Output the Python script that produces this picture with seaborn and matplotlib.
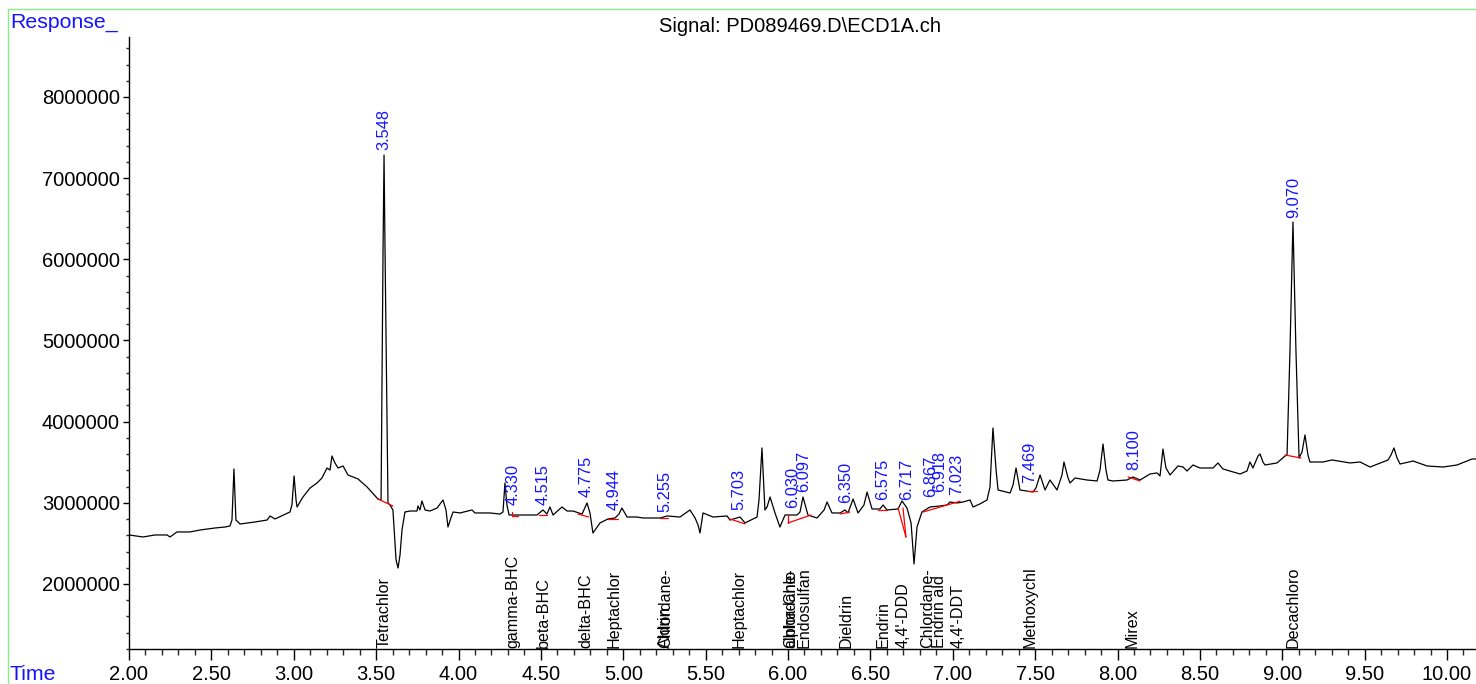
import numpy as np
import pandas as pd
import seaborn as sns
import matplotlib
matplotlib.use("Agg")
import matplotlib.pyplot as plt
from matplotlib import ticker
from matplotlib.lines import Line2D

# ---------------- data ----------------
time_min = [
    2.000, 2.085, 2.158, 2.231, 2.249, 2.291, 2.370, 2.431, 2.522, 2.583,
    2.613, 2.625, 2.637, 2.649, 2.674, 2.765, 2.838, 2.856, 2.886, 2.977,
    2.989, 3.002, 3.014, 3.020, 3.056, 3.099, 3.141, 3.171, 3.202, 3.220,
    3.232, 3.250, 3.269, 3.299, 3.329, 3.390, 3.445, 3.511, 3.530, 3.542,
    3.548, 3.554, 3.572, 3.584, 3.602, 3.621, 3.633, 3.645, 3.657, 3.675,
    3.706, 3.748, 3.754, 3.766, 3.778, 3.797, 3.827, 3.870, 3.906, 3.924,
    3.936, 3.954, 3.967, 4.009, 4.082, 4.100, 4.191, 4.252, 4.270, 4.282,
    4.294, 4.307, 4.355, 4.476, 4.513, 4.537, 4.555, 4.574, 4.628, 4.659,
    4.695, 4.750, 4.780, 4.798, 4.816, 4.859, 4.907, 4.950, 4.974, 4.992,
    5.023, 5.083, 5.120, 5.223, 5.266, 5.344, 5.405, 5.436, 5.454, 5.466,
    5.484, 5.545, 5.630, 5.648, 5.709, 5.739, 5.812, 5.824, 5.842, 5.860,
    5.873, 5.891, 5.921, 5.951, 5.982, 6.055, 6.073, 6.091, 6.121, 6.176,
    6.219, 6.237, 6.267, 6.316, 6.346, 6.364, 6.395, 6.425, 6.461, 6.480,
    6.510, 6.558, 6.577, 6.601, 6.668, 6.692, 6.722, 6.747, 6.765, 6.783,
    6.813, 6.862, 6.923, 6.965, 6.983, 7.026, 7.062, 7.105, 7.123, 7.165,
    7.208, 7.226, 7.244, 7.263, 7.275, 7.348, 7.366, 7.384, 7.408, 7.487,
    7.505, 7.530, 7.560, 7.590, 7.633, 7.663, 7.675, 7.700, 7.712, 7.742,
    7.815, 7.876, 7.894, 7.912, 7.930, 7.942, 7.973, 8.058, 8.094, 8.137,
    8.197, 8.240, 8.258, 8.276, 8.294, 8.319, 8.367, 8.398, 8.422, 8.458,
    8.501, 8.580, 8.610, 8.640, 8.744, 8.786, 8.804, 8.822, 8.853, 8.865,
    8.883, 8.895, 8.968, 9.017, 9.029, 9.047, 9.065, 9.083, 9.102, 9.120,
    9.138, 9.156, 9.168, 9.247, 9.302, 9.411, 9.472, 9.533, 9.611, 9.642,
    9.660, 9.678, 9.697, 9.715, 9.794, 9.879, 9.976, 10.061, 10.152, 10.176,
]
response_millions = [
    2.604, 2.579, 2.604, 2.604, 2.579, 2.641, 2.641, 2.665, 2.690, 2.702,
    2.715, 2.788, 3.417, 2.788, 2.739, 2.764, 2.788, 2.838, 2.801, 2.887,
    2.973, 3.331, 3.035, 2.949, 3.072, 3.183, 3.244, 3.306, 3.429, 3.404,
    3.577, 3.491, 3.429, 3.454, 3.343, 3.294, 3.195, 3.047, 3.035, 6.115,
    7.285, 6.115, 2.998, 2.973, 2.912, 2.296, 2.197, 2.357, 2.665, 2.887,
    2.899, 2.899, 2.961, 2.912, 3.023, 2.912, 2.899, 2.936, 3.035, 2.912,
    2.702, 2.813, 2.887, 2.875, 2.912, 2.875, 2.875, 2.862, 2.887, 3.244,
    2.973, 2.850, 2.850, 2.850, 2.912, 2.862, 2.949, 2.850, 2.949, 2.899,
    2.899, 2.862, 2.998, 2.875, 2.628, 2.752, 2.801, 2.813, 2.862, 2.936,
    2.825, 2.825, 2.813, 2.813, 2.838, 2.825, 2.912, 2.813, 2.727, 2.628,
    2.875, 2.825, 2.838, 2.788, 2.825, 2.752, 2.825, 3.035, 3.676, 2.912,
    2.949, 3.072, 2.875, 2.702, 2.850, 2.850, 2.887, 3.072, 2.850, 2.813,
    2.912, 3.010, 2.875, 2.875, 2.912, 2.875, 3.047, 2.875, 2.973, 3.133,
    2.924, 2.924, 2.973, 2.912, 2.924, 3.023, 2.936, 2.752, 2.246, 2.702,
    2.887, 2.949, 2.961, 2.973, 3.010, 2.998, 3.010, 3.035, 2.949, 2.986,
    3.035, 3.195, 3.922, 3.404, 3.158, 3.121, 3.220, 3.429, 3.158, 3.133,
    3.183, 3.343, 3.158, 3.281, 3.158, 3.343, 3.503, 3.306, 3.244, 3.306,
    3.281, 3.269, 3.404, 3.725, 3.404, 3.281, 3.269, 3.281, 3.318, 3.281,
    3.355, 3.368, 3.331, 3.663, 3.429, 3.343, 3.454, 3.441, 3.392, 3.466,
    3.429, 3.429, 3.491, 3.417, 3.355, 3.392, 3.503, 3.429, 3.577, 3.602,
    3.503, 3.466, 3.491, 3.577, 3.589, 4.883, 6.460, 4.883, 3.552, 3.626,
    3.836, 3.589, 3.503, 3.503, 3.528, 3.491, 3.503, 3.441, 3.503, 3.528,
    3.589, 3.676, 3.552, 3.478, 3.515, 3.454, 3.441, 3.466, 3.540, 3.540,
]

# integration baselines (red): start time, start response, end time, end response (millions)
base_t0 = [3.511, 4.325, 4.325, 4.490, 4.725, 4.907, 5.223, 5.648, 6.000, 6.000, 6.316, 6.546, 6.668, 6.698, 6.820, 7.457, 8.064, 9.017]
base_r0 = [3.047, 2.887, 2.838, 2.850, 2.862, 2.801, 2.813, 2.801, 2.850, 2.752, 2.862, 2.912, 2.936, 2.936, 2.887, 3.146, 3.318, 3.589]
base_t1 = [3.602, 4.325, 4.360, 4.535, 4.790, 4.968, 5.270, 5.739, 6.000, 6.140, 6.376, 6.600, 6.716, 6.716, 7.045, 7.510, 8.137, 9.114]
base_r1 = [2.961, 2.838, 2.838, 2.850, 2.825, 2.801, 2.813, 2.740, 2.752, 2.850, 2.887, 2.912, 2.579, 2.579, 3.020, 3.146, 3.269, 3.552]

# retention-time labels (blue) and the response at which each label starts (millions)
rt_labels = ["3.548", "4.330", "4.515", "4.775", "4.944", "5.255", "5.703", "6.030", "6.097",
             "6.350", "6.575", "6.717", "6.867", "6.918", "7.023", "7.469", "8.100", "9.070"]
rt_label_resp = [7.347, 2.973, 2.973, 3.072, 2.912, 2.887, 2.912, 2.936, 3.133,
                 2.998, 3.035, 3.035, 3.072, 3.133, 3.096, 3.244, 3.404, 6.509]

# compound names (black) and their retention times
compound_names = ["Tetrachlor", "gamma-BHC", "beta-BHC", "delta-BHC", "Heptachlor", "Aldrin",
                  "Chlordane-", "Heptachlor", "alpha-Chlo", "Chlordane-", "Endosulfan", "Dieldrin",
                  "Endrin", "4,4'-DDD", "Chlordane-", "Endrin ald", "4,4'-DDT", "Methoxychl",
                  "Mirex", "Decachloro"]
compound_rt = [3.548, 4.330, 4.515, 4.775, 4.944, 5.255, 5.255, 5.703, 6.015, 6.015, 6.100, 6.350,
               6.575, 6.700, 6.850, 6.918, 7.030, 7.469, 8.090, 9.068]

x_ticks = [2.0, 2.5, 3.0, 3.5, 4.0, 4.5, 5.0, 5.5, 6.0, 6.5, 7.0, 7.5, 8.0, 8.5, 9.0, 9.5, 10.0]
y_ticks = [2000000, 3000000, 4000000, 5000000, 6000000, 7000000, 8000000]

# ---------------- styling ----------------
sns.set_style("ticks")
plt.rcParams["font.family"] = ["Liberation Sans", "DejaVu Sans"]

W, H, DPI = 1476, 684, 100
fig = plt.figure(figsize=(W / DPI, H / DPI), dpi=DPI)
ax = fig.add_axes([129 / W, (H - 649) / H, (W - 129) / W, (649 - 37) / H])

df = pd.DataFrame({"time": time_min, "response": np.array(response_millions) * 1e6})
sns.lineplot(data=df, x="time", y="response", sort=False, estimator=None,
             color="black", linewidth=0.9, ax=ax)

for t0, r0, t1, r1 in zip(base_t0, base_r0, base_t1, base_r1):
    ax.plot([t0, t1], [r0 * 1e6, r1 * 1e6], color="red", linewidth=0.9)

blue = "#1414ff"
for lab, ry in zip(rt_labels, rt_label_resp):
    ax.text(float(lab), ry * 1e6, lab, rotation=90, ha="center", va="bottom",
            color=blue, fontsize=11.8, clip_on=False)

for name, t in zip(compound_names, compound_rt):
    ax.text(t, 1.21e6, name, rotation=90, ha="center", va="bottom",
            color="black", fontsize=11.6, clip_on=False)

ax.set_xlim(2.0, 10.176)
ax.set_ylim(1.199e6, 8.739e6)
ax.set_xticks(x_ticks)
ax.set_yticks(y_ticks)
ax.xaxis.set_major_formatter(ticker.FormatStrFormatter("%.2f"))
ax.yaxis.set_major_formatter(ticker.FuncFormatter(lambda v, _: f"{int(round(v))}"))
ax.xaxis.set_minor_locator(ticker.MultipleLocator(0.1))
ax.yaxis.set_minor_locator(ticker.MultipleLocator(200000))
ax.tick_params(axis="x", which="major", length=8, width=1, pad=3.5, labelsize=14.5, colors="black")
ax.tick_params(axis="x", which="minor", length=4, width=1)
ax.tick_params(axis="y", which="major", length=4.5, width=1, pad=2, labelsize=14.5, colors="black")
ax.tick_params(axis="y", which="minor", length=2.2, width=1)
ax.set_xlabel("")
ax.set_ylabel("")
sns.despine(ax=ax, top=True, right=True)
for s in ("left", "bottom"):
    ax.spines[s].set_color("black")
    ax.spines[s].set_linewidth(1)
ax.set_facecolor("white")

# frame lines and header texts
green = "#88ee88"
fig.add_artist(Line2D([8 / W, 1.0], [1 - 9 / H, 1 - 9 / H], color=green, linewidth=1, transform=fig.transFigure))
fig.add_artist(Line2D([8 / W, 8 / W], [0, 1 - 9 / H], color=green, linewidth=1, transform=fig.transFigure))
fig.text(10 / W, 1 - 22 / H, "Response_", color=blue, fontsize=15.3, ha="left", va="center")
fig.text(10 / W, 1 - 675 / H, "Time", color=blue, fontsize=15.3, ha="left", va="center")
fig.text(800 / W, 1 - 26 / H, "Signal: PD089469.D\\ECD1A.ch", color="black", fontsize=14.5,
         ha="center", va="center")

fig.savefig("out.png", dpi=DPI, facecolor="white")
